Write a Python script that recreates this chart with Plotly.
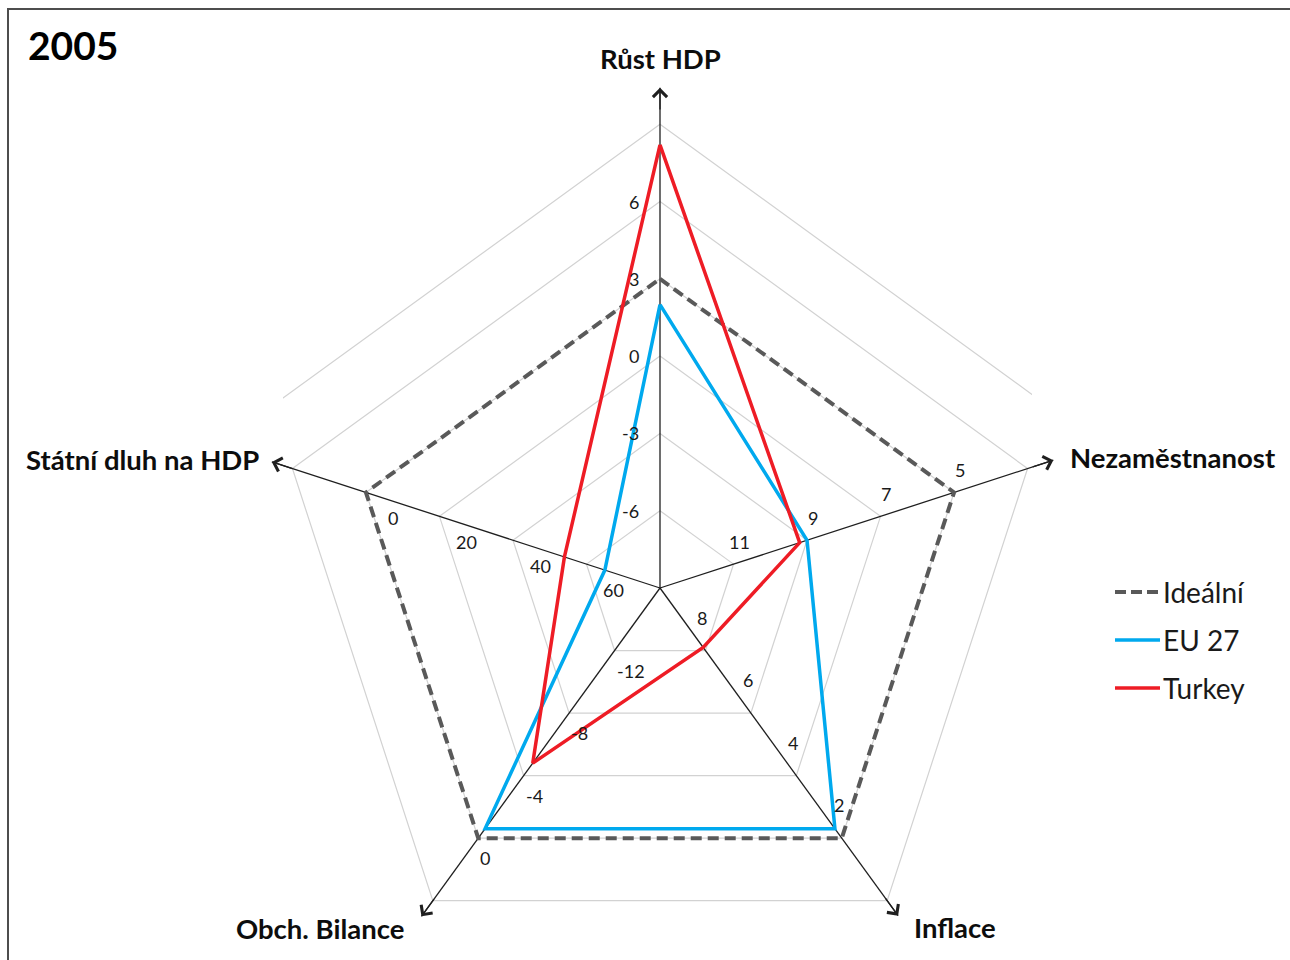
import math
import plotly.graph_objects as go

# ---- data -----------------------------------------------------------------
AXES = ["Růst HDP", "Nezaměstnanost", "Inflace", "Obch. Bilance", "Státní dluh na HDP"]
AXIS_CENTER = [-9, 13, 10, -16, 80]     # value sitting at the centre of each spoke
AXIS_STEP = [3, -2, -2, 4, -20]         # value change from one grid ring to the next
N_RINGS = 6

TICK_VALUES = [
    [-6, -3, 0, 3, 6],
    [11, 9, 7, 5],
    [8, 6, 4, 2],
    [-12, -8, -4, 0],
    [60, 40, 20, 0],
]

SERIES_NAMES = ["Ideální", "EU 27", "Turkey"]
IDEAL = [3, 5, 2, 0, 0]
EU27 = [2.0, 9.0, 2.3, -0.6, 65]
TURKEY = [8.2, 9.2, 8.1, -4.8, 54]
TITLE = "2005"

# ---- layout / style -------------------------------------------------------
W, H = 1290, 960
CX, CY = 660, 588          # pixel position of the radar centre
U = 77.3                   # pixels per grid ring
FONT = "Lato"
GRID = "#d2d2d2"
SPOKE = "#1f1f1f"
COLORS = ["#595959", "#00a9ee", "#ee1c25"]
WIDTHS = [4, 3.5, 3.5]
DASHES = ["11px,6px", "solid", "solid"]

ARROW_REACH = [6.47, 5.35, 5.24, 5.25, 5.28]          # spoke length in rings
# tick label offset (px, y down) and anchor per spoke
TICK_OFFSET = [(-19, 0, "right"), (5.5, -22, "center"), (-3, -33, "center"),
               (0, 20, "left"), (27.5, 26, "center")]
# axis name offset from the arrow tip (px, y down) and anchor
NAME_OFFSET = [(0, -29, "center"), (15, -3, "left"), (14, 12, "left"),
               (-15, 12, "right"), (-11, -2, "right")]

N = len(AXES)


def angle(i):
    return math.radians(90 - 360.0 * i / N)


def ring_level(i, v):
    return (v - AXIS_CENTER[i]) / AXIS_STEP[i]


def point(i, lv):
    a = angle(i)
    return lv * math.cos(a), lv * math.sin(a)


def closed_shape(values):
    xs, ys = [], []
    for i, v in enumerate(values):
        x, y = point(i, ring_level(i, v))
        xs.append(x)
        ys.append(y)
    return xs + xs[:1], ys + ys[:1]


fig = go.Figure()

# outermost ring lives on its own, clipped subplot (x/y)
x0c, x1c, y0c, y1c = 283, 1032, 100, 600
rx, ry = [], []
for i in range(N + 1):
    x, y = point(i % N, N_RINGS)
    rx.append(x)
    ry.append(y)
fig.add_trace(go.Scatter(x=rx, y=ry, mode="lines", line=dict(color=GRID, width=1.2),
                         hoverinfo="skip", showlegend=False, xaxis="x", yaxis="y"))

# inner rings
gx, gy = [], []
for lv in range(1, N_RINGS):
    for i in range(N + 1):
        x, y = point(i % N, lv)
        gx.append(x)
        gy.append(y)
    gx.append(None)
    gy.append(None)
fig.add_trace(go.Scatter(x=gx, y=gy, mode="lines", line=dict(color=GRID, width=1.2),
                         hoverinfo="skip", showlegend=False, xaxis="x2", yaxis="y2"))

# spokes
sx, sy = [], []
for i in range(N):
    x, y = point(i, ARROW_REACH[i])
    sx += [0, x, None]
    sy += [0, y, None]
fig.add_trace(go.Scatter(x=sx, y=sy, mode="lines", line=dict(color=SPOKE, width=1.3),
                         hoverinfo="skip", showlegend=False, xaxis="x2", yaxis="y2"))

# series
for name, vals, c, w, d in zip(SERIES_NAMES, [IDEAL, EU27, TURKEY], COLORS, WIDTHS, DASHES):
    xs, ys = closed_shape(vals)
    fig.add_trace(go.Scatter(x=xs, y=ys, mode="lines", name=name,
                             line=dict(color=c, width=w, dash=d),
                             showlegend=False, xaxis="x2", yaxis="y2"))

ann = []
# arrow heads at the spoke ends, axis names beside them
for i in range(N):
    tx, ty = point(i, ARROW_REACH[i])
    bx, by = point(i, ARROW_REACH[i] - 0.3)
    ann.append(dict(x=tx, y=ty, ax=bx, ay=by, xref="x2", yref="y2", axref="x2", ayref="y2",
                    text="", showarrow=True, arrowhead=4, arrowsize=2.1, arrowwidth=1.3,
                    arrowcolor=SPOKE))
    dx, dy, anc = NAME_OFFSET[i]
    ann.append(dict(x=tx, y=ty, xref="x2", yref="y2", text="<b>%s</b>" % AXES[i],
                    showarrow=False, xanchor=anc, yanchor="middle", xshift=dx, yshift=-dy,
                    font=dict(family=FONT, size=27.5, color="#0d0d0d")))

# tick labels
for i in range(N):
    dx, dy, anc = TICK_OFFSET[i]
    for v in TICK_VALUES[i]:
        x, y = point(i, ring_level(i, v))
        ann.append(dict(x=x, y=y, xref="x2", yref="y2", text=str(v), showarrow=False,
                        xanchor=anc, yanchor="middle", xshift=dx, yshift=-dy,
                        font=dict(family=FONT, size=18, color="#1a1a1a")))

# title
ann.append(dict(x=26 / W, y=1 - 45 / H, xref="paper", yref="paper", text="<b>%s</b>" % TITLE,
                showarrow=False, xanchor="left", yanchor="middle",
                font=dict(family=FONT, size=39, color="#000000")))

# legend
shapes = []
LEG_X0, LEG_X1, LEG_Y0, LEG_DY = 1115, 1160, 592, 48
for k, name in enumerate(SERIES_NAMES):
    py = LEG_Y0 + k * LEG_DY
    shapes.append(dict(type="line", xref="paper", yref="paper",
                       x0=LEG_X0 / W, x1=LEG_X1 / W, y0=1 - py / H, y1=1 - py / H,
                       line=dict(color=COLORS[k], width=WIDTHS[k],
                                 dash="11px,5px" if DASHES[k] != "solid" else "solid")))
    ann.append(dict(x=(LEG_X1 + 1) / W, y=1 - py / H, xref="paper", yref="paper", text=name,
                    showarrow=False, xanchor="left", yanchor="middle",
                    font=dict(family=FONT, size=28, color="#1a1a1a")))

# chart frame
shapes.append(dict(type="rect", xref="paper", yref="paper", x0=8 / W, y0=-0.02, x1=1.02,
                   y1=1 - 9 / H, line=dict(color="#4d4d4d", width=2), fillcolor="rgba(0,0,0,0)"))

hidden = dict(visible=False, showgrid=False, zeroline=False, fixedrange=True)
fig.update_layout(
    width=W, height=H, margin=dict(l=0, r=0, t=0, b=0),
    paper_bgcolor="white", plot_bgcolor="rgba(0,0,0,0)",
    showlegend=False,
    xaxis=dict(domain=[x0c / W, x1c / W], range=[(x0c - CX) / U, (x1c - CX) / U], **hidden),
    yaxis=dict(domain=[1 - y1c / H, 1 - y0c / H], range=[(CY - y1c) / U, (CY - y0c) / U], **hidden),
    xaxis2=dict(domain=[0, 1], range=[-CX / U, (W - CX) / U], **hidden),
    yaxis2=dict(domain=[0, 1], range=[(CY - H) / U, CY / U], **hidden),
    annotations=ann,
    shapes=shapes,
)

fig.write_html("out.html")
